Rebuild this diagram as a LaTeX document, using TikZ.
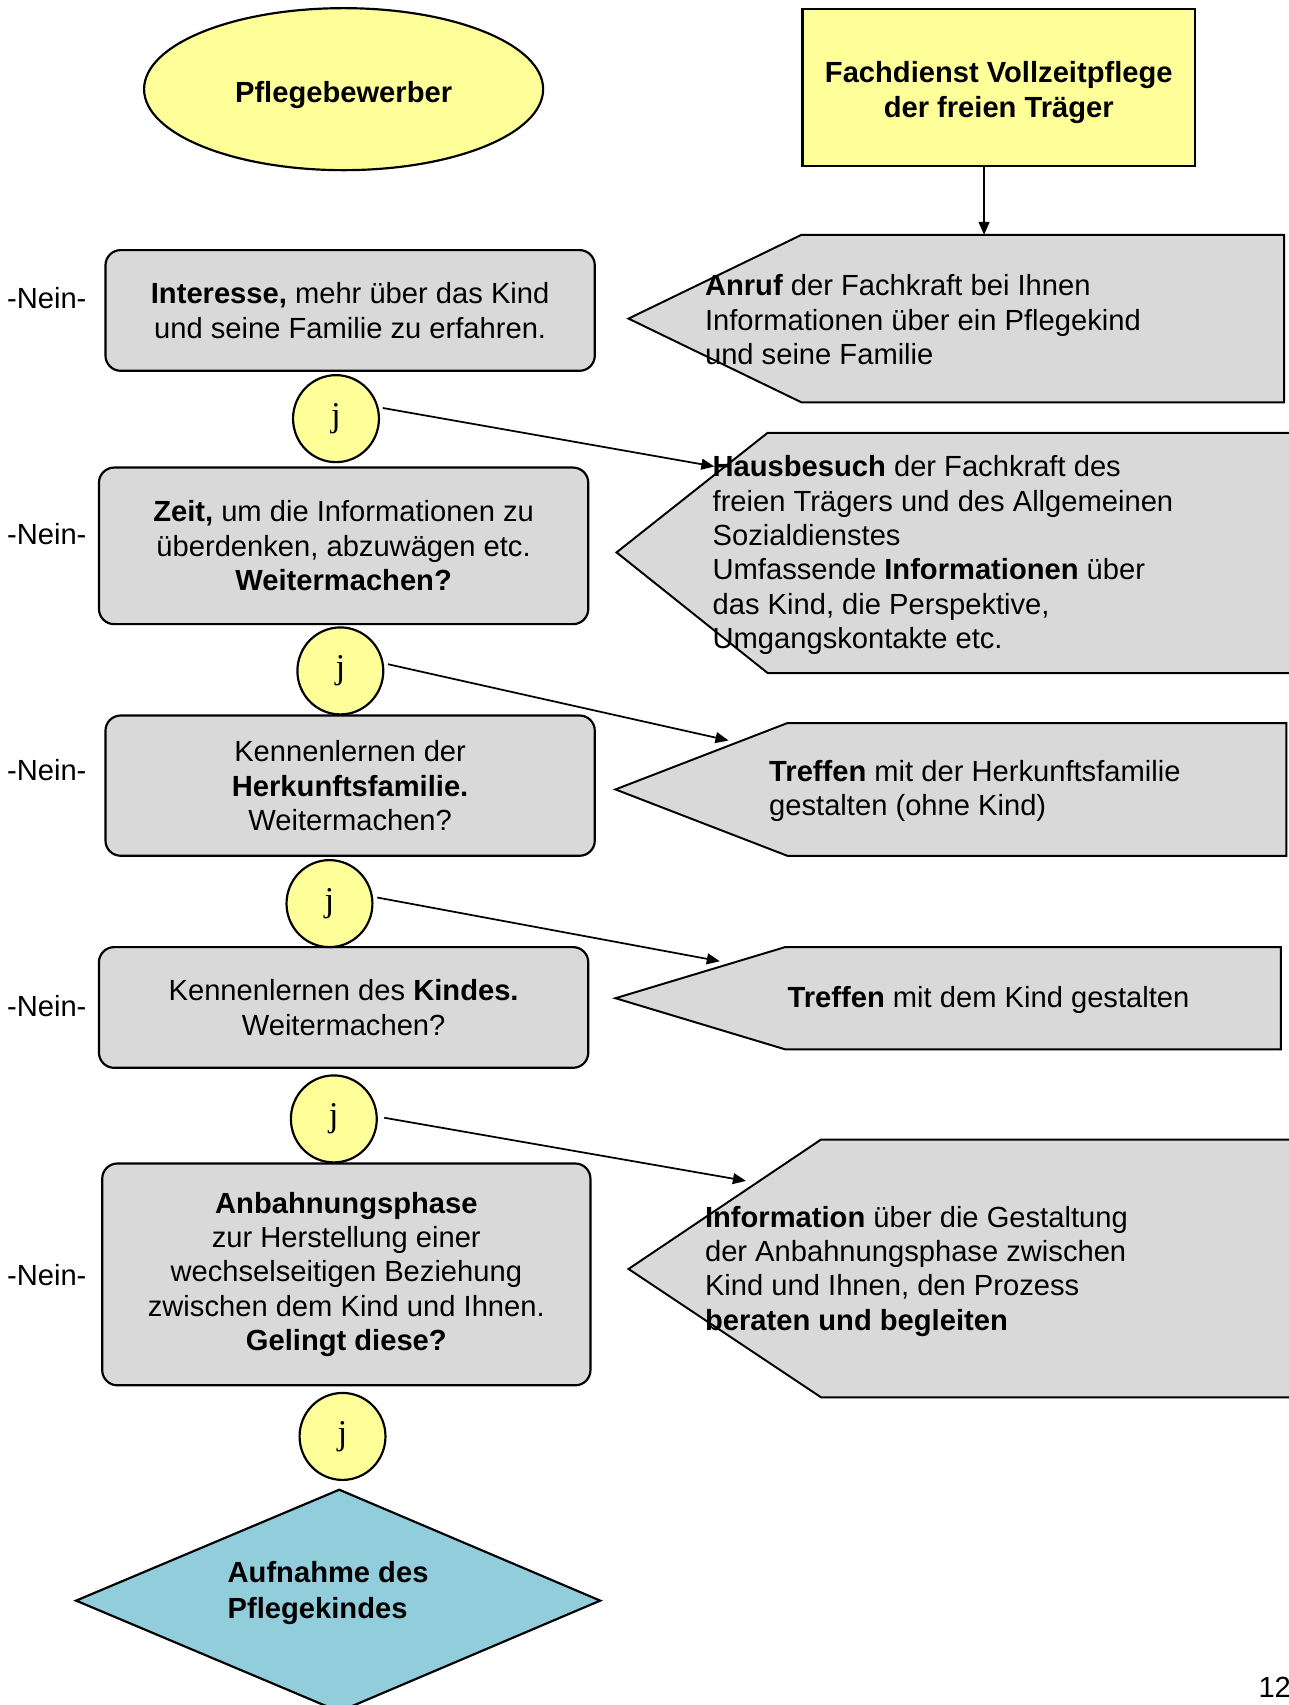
\documentclass[tikz,border=0pt]{standalone}
\usepackage{fontspec}
\setmainfont{Liberation Sans}
\newfontfamily\jfont{Liberation Serif}
\usetikzlibrary{arrows.meta,shapes.geometric}
\definecolor{yel}{HTML}{FFFF99}
\definecolor{boxgray}{HTML}{D9D9D9}
\definecolor{dblue}{HTML}{92CDDC}
\newcommand\myfs{\fontsize{13.4}{15.8}\selectfont}
\begin{document}
\begin{tikzpicture}[x=0.5pt,y=-0.5pt,
  font=\myfs,
  every node/.style={inner sep=0pt},
  outl/.style={draw=black, line width=1pt},
  lbox/.style={outl, fill=boxgray, rounded corners=7pt, minimum width=225pt, align=center},
  jnode/.style={outl, fill=yel, ellipse, minimum width=39.5pt, minimum height=40pt, font=\jfont\fontsize{16}{17}\selectfont},
  pent/.style={draw=black, fill=boxgray, line width=0.9pt},
  ptext/.style={anchor=west, align=left},
  conn/.style={draw=black, line width=0.8pt, -{Triangle[length=6pt,width=5pt]}},
  nein/.style={anchor=center},
  ]
\useasboundingbox (0,0) rectangle (1185.4,1568);
\clip (0,0) rectangle (1185.4,1568);

% top shapes
\node[outl, fill=yel, ellipse, minimum width=183.5pt, minimum height=74.5pt] (bew) at (316,82) {};
\node[font=\myfs\bfseries] (bewt) at (316,87) {Pflegebewerber};
\node[outl, fill=yel, minimum width=180.5pt, minimum height=72.5pt] (fach) at (918.5,80.5) {};
\node[align=center, font=\fontsize{13.4}{16}\selectfont\bfseries] (facht) at (918.5,85) {Fachdienst Vollzeitpflege\\der freien Träger};

% right pentagons
\draw[pent] (578,293) -- (737,216) -- (1181,216) -- (1181,370) -- (737,370) -- cycle;
\node[ptext] (anruf) at (648,294) {\textbf{Anruf} der Fachkraft bei Ihnen\\Informationen über ein Pflegekind\\und seine Familie};

\draw[pent] (567,508) -- (706,398) -- (1200,398) -- (1200,619) -- (706,619) -- cycle;
\node[ptext] (haus) at (655,510.5) {\textbf{Hausbesuch} der Fachkraft des\\freien Trägers und des Allgemeinen\\Sozialdienstes\\Umfassende \textbf{Informationen} über\\das Kind, die Perspektive,\\Umgangskontakte etc.};

\draw[pent] (566,726) -- (724,665) -- (1183,665) -- (1183,787) -- (724,787) -- cycle;
\node[ptext] (treffh) at (707,727.5) {\textbf{Treffen} mit der Herkunftsfamilie\\gestalten (ohne Kind)};

\draw[pent] (566,918) -- (722,871) -- (1178,871) -- (1178,965) -- (722,965) -- cycle;
\node[ptext] (treffk) at (724,920) {\textbf{Treffen} mit dem Kind gestalten};

\draw[pent] (578,1167) -- (755,1048) -- (1200,1048) -- (1200,1285) -- (755,1285) -- cycle;
\node[ptext] (info) at (648,1169) {\textbf{Information} über die Gestaltung\\der Anbahnungsphase zwischen\\Kind und Ihnen, den Prozess\\\textbf{beraten und begleiten}};

% left boxes
\node[lbox, minimum height=55.5pt] (b1) at (322,285.5) {\textbf{Interesse,} mehr über das Kind\\und seine Familie zu erfahren.};
\node[lbox, minimum height=72pt] (b2) at (316,502) {\textbf{Zeit,} um die Informationen zu\\überdenken, abzuwägen etc.\\\textbf{Weitermachen?}};
\node[lbox, minimum height=64.5pt] (b3) at (322,722.5) {Kennenlernen der\\\textbf{Herkunftsfamilie.}\\Weitermachen?};
\node[lbox, minimum height=55.5pt] (b4) at (316,926.5) {Kennenlernen des \textbf{Kindes.}\\Weitermachen?};
\node[lbox, minimum width=224.5pt, minimum height=102pt] (b5) at (318.5,1172) {\textbf{Anbahnungsphase}\\zur Herstellung einer\\wechselseitigen Beziehung\\zwischen dem Kind und Ihnen.\\\textbf{Gelingt diese?}};

% Nein labels
\node[nein] (n1) at (43,274) {-Nein-};
\node[nein] (n2) at (43,491) {-Nein-};
\node[nein] (n3) at (43,708) {-Nein-};
\node[nein] (n4) at (43,925) {-Nein-};
\node[nein] (n5) at (43,1173) {-Nein-};

% j circles
\node[jnode] (j1) at (309,385) {j};
\node[jnode] (j2) at (313,617) {j};
\node[jnode] (j3) at (303,831) {j};
\node[jnode] (j4) at (307,1029) {j};
\node[jnode] (j5) at (315,1321) {j};

% diamond
\draw[outl, fill=dblue] (70,1472) -- (312,1370) -- (552,1472) -- (312,1574) -- cycle;
\node[ptext, font=\fontsize{13.4}{16.5}\selectfont\bfseries] (aufn) at (209,1465) {Aufnahme des\\Pflegekindes};

% page number
\node[anchor=west] (pnum) at (1157,1552) {12};

% connectors
\coordinate (a0) at (905,216);
\coordinate (a1) at (657,429);
\coordinate (a2) at (670,681);
\coordinate (a3) at (662,884);
\coordinate (a4) at (686,1086);
\draw[conn] (fach.south -| a0) -- (a0);
\draw[conn, shorten <=2pt] (j1.15) -- (a1);
\draw[conn, shorten <=2pt] (j2.10) -- (a2);
\draw[conn, shorten <=2pt] (j3.9) -- (a3);
\draw[conn, shorten <=3pt] (j4.3) -- (a4);
\end{tikzpicture}
\end{document}
